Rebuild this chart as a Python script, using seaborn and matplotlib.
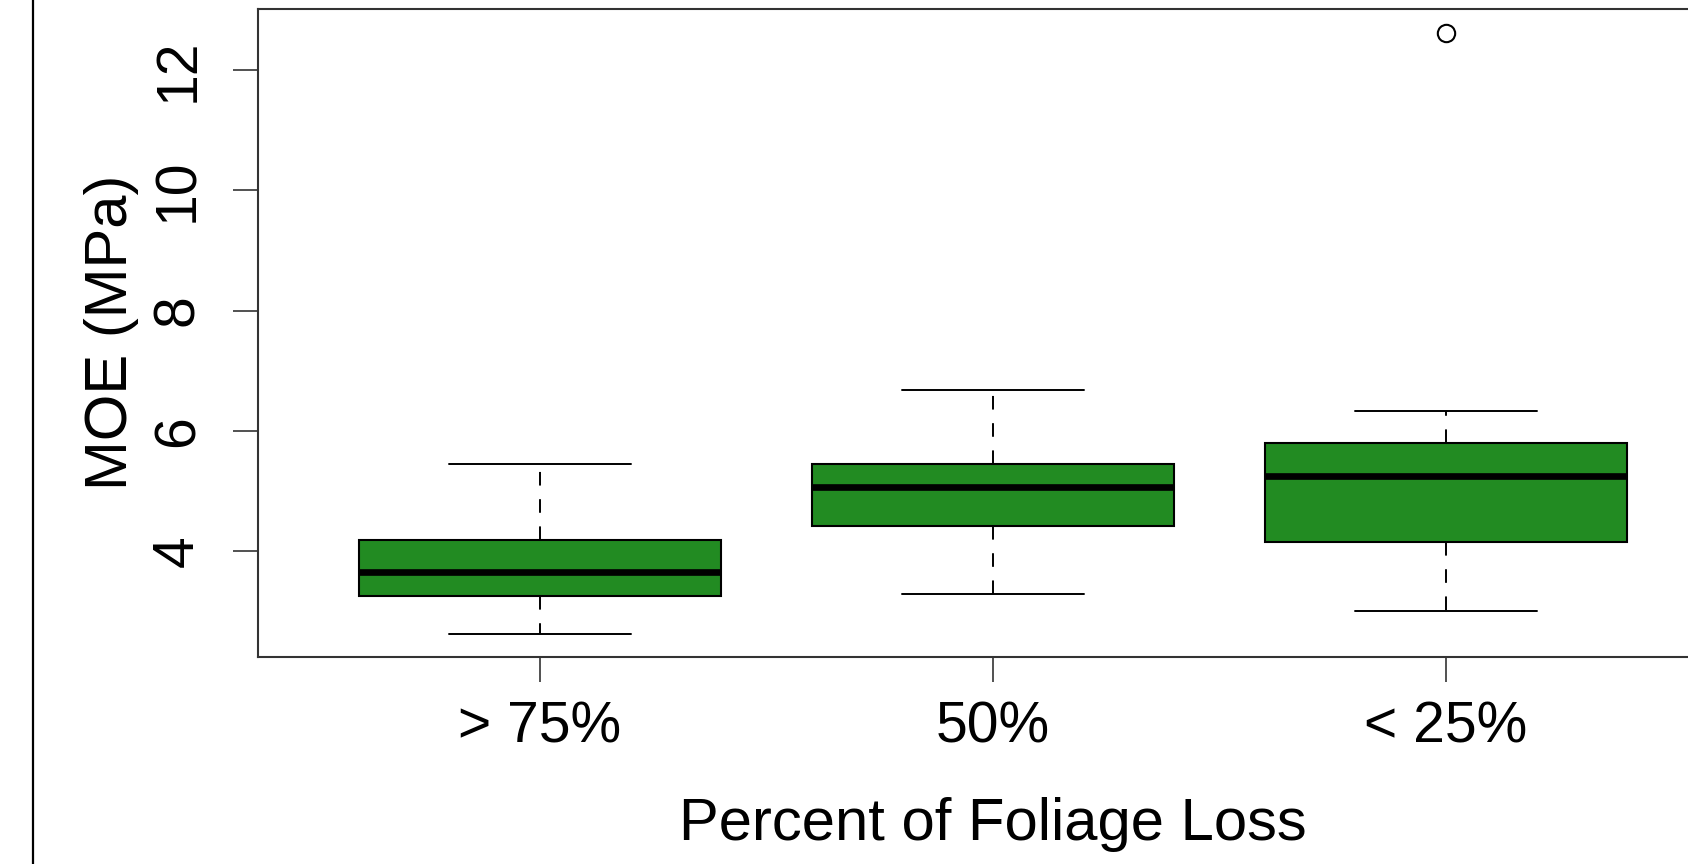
import pandas as pd
import matplotlib
matplotlib.use("Agg")
import matplotlib.pyplot as plt
from matplotlib.lines import Line2D
import seaborn as sns

# MOE values per foliage-loss class
categories = ["> 75%", "50%", "< 25%"]
moe_75 = [2.63, 3.25, 3.66, 4.19, 5.45]
moe_50 = [3.29, 4.41, 5.06, 5.45, 6.68]
moe_25 = [3.01, 3.60, 4.15, 4.70, 5.25, 5.50, 5.80, 6.33, 12.61]
y_ticks = [4, 6, 8, 10, 12]

df = pd.DataFrame({
    "loss": [categories[0]] * len(moe_75) + [categories[1]] * len(moe_50) + [categories[2]] * len(moe_25),
    "moe": moe_75 + moe_50 + moe_25,
})

sns.set_style("white")
plt.rcParams["font.family"] = ["Liberation Sans", "DejaVu Sans"]

fig = plt.figure(figsize=(16.88, 8.64), dpi=100)
ax = fig.add_axes([0.15284, 0.23958, 0.87026, 0.75047])

sns.boxplot(
    data=df, x="loss", y="moe", order=categories, ax=ax,
    color="#228B22", saturation=1, width=0.8, linecolor="black", linewidth=1.5,
    boxprops={"edgecolor": "black", "linewidth": 1.5},
    whiskerprops={"color": "black", "linewidth": 1.4, "linestyle": (0, (7, 7))},
    capprops={"color": "black", "linewidth": 1.4},
    medianprops={"color": "black", "linewidth": 4.8},
    flierprops={"marker": "o", "markerfacecolor": "none", "markeredgecolor": "black",
                "markersize": 12.5, "markeredgewidth": 1.5},
)

ax.set_xlim(-0.6225, 2.62)
ax.set_ylim(2.24, 13.02)
ax.set_yticks(y_ticks)
ax.set_yticklabels([str(t) for t in y_ticks])

for side in ["left", "right", "top", "bottom"]:
    ax.spines[side].set_visible(True)
    ax.spines[side].set_color("#333333")
    ax.spines[side].set_linewidth(1.5)

ax.tick_params(axis="both", direction="out", length=18, width=1.2, color="#333333",
               labelsize=41, labelcolor="black", left=True, bottom=True)
ax.tick_params(axis="y", labelrotation=90, pad=20)
ax.tick_params(axis="x", pad=13)
for lab in ax.get_yticklabels():
    lab.set_va("center")

ax.set_xlabel("Percent of Foliage Loss", fontsize=43, labelpad=31, color="black")
ax.set_ylabel("MOE (MPa)", fontsize=43, labelpad=9, color="black")

# black border line at the left edge of the image
fig.add_artist(Line2D([33 / 1688, 33 / 1688], [0, 1], transform=fig.transFigure,
                      color="black", linewidth=1.6))

fig.savefig("out.png", dpi=100)
